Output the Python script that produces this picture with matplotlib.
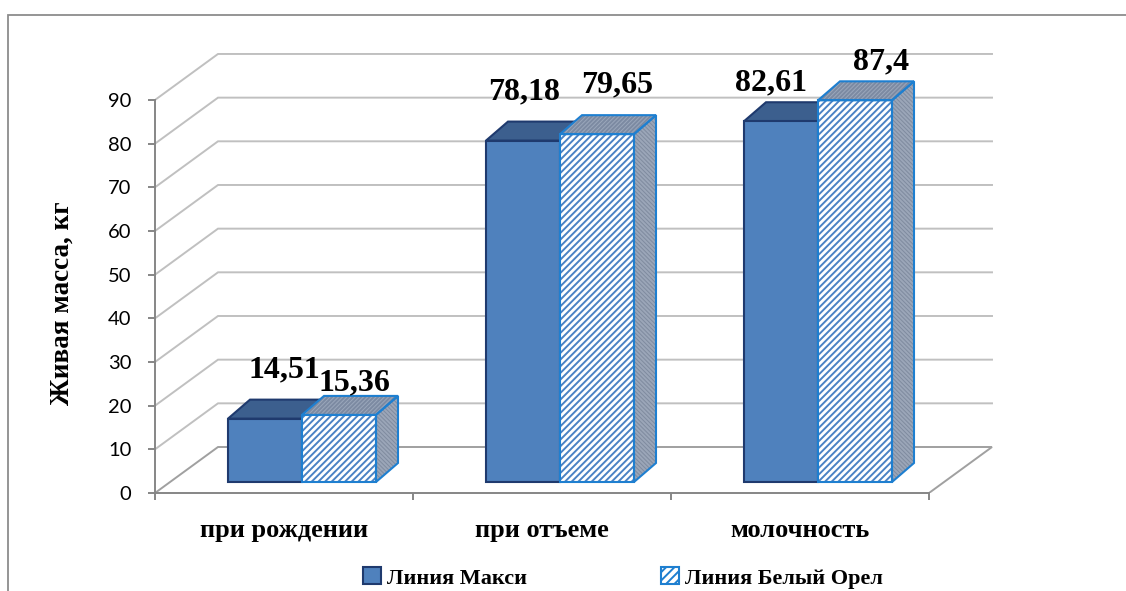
import matplotlib
matplotlib.use('Agg')
import matplotlib.pyplot as plt
from matplotlib.patches import Polygon, Rectangle, Patch
import numpy as np

# data
categories = ['при рождении', 'при отъеме', 'молочность']
maksi = [14.51, 78.18, 82.61]
orel = [15.36, 79.65, 87.4]
series_names = ['Линия Макси', 'Линия Белый Орел']
y_ticks = list(range(0, 100, 10))

# label nudges (px) relative to the top-back of each bar
maksi_nudge = [(8, -30), (-10, -30), (-21, -19)]
orel_nudge = [(4, -13), (9, -30), (15, -19)]

plt.rcParams['hatch.linewidth'] = 1.4
SERIF = 'Liberation Serif'

W_PX, H_PX = 1126, 591
fig = plt.figure(figsize=(W_PX / 100, H_PX / 100), dpi=100)
ax = fig.add_axes([155 / W_PX, 98 / H_PX, 838 / W_PX, 440 / H_PX])
PX_X, PX_Y = 258, 4.367  # pixels per category / per kg
ax.set_xlim(-0.5, -0.5 + 838 / PX_X)
ax.set_ylim(0, 440 / PX_Y)

# 3d geometry
DX, DY = 63 / PX_X, 46 / PX_Y      # depth of the floor and walls
BX, BY = 18 / PX_X, 11 / PX_Y      # front face of the bars sits a bit back
BW = 74 / PX_X                     # bar width
BDX, BDY = 22 / PX_X, 19 / PX_Y    # bar depth

x_end = len(categories) - 0.5

# gridlines on the back wall
for v in y_ticks:
    xs = [-0.5, -0.5 + DX, x_end + DX]
    ys = [v, v + DY, v + DY]
    col = '#C0C0C0'
    if v == 0:
        xs.append(x_end)
        ys.append(0)
        col = '#A0A0A0'
    ax.plot(xs, ys, color=col, lw=1.4, zorder=0.5, solid_joinstyle='miter')

x = np.arange(len(categories))
maksi_front = '#4F81BD'
maksi_edge = '#1F3A6E'
maksi_top = '#3C5F8E'
orel_edge = '#1E7FD0'
orel_hatch = '#4A82C4'

xm = x - BW + BX
xo = x + BX

# Макси
ax.bar(xm, maksi, BW, bottom=BY, align='edge', color=maksi_front,
       edgecolor=maksi_edge, lw=1.5, zorder=2)
for x0, h in zip(xm, maksi):
    top = [(x0, BY + h), (x0 + BW, BY + h), (x0 + BW + BDX, BY + h + BDY), (x0 + BDX, BY + h + BDY)]
    ax.add_patch(Polygon(top, closed=True, facecolor=maksi_top, edgecolor=maksi_edge,
                         lw=1.5, zorder=1.9, joinstyle='miter'))

# Белый Орел
ax.bar(xo, orel, BW, bottom=BY, align='edge', color='white', edgecolor=orel_hatch,
       hatch='/////', lw=0, zorder=3)
ax.bar(xo, orel, BW, bottom=BY, align='edge', fill=False, edgecolor=orel_edge,
       lw=1.5, zorder=3.1)
for x0, h in zip(xo, orel):
    x1 = x0 + BW
    top = [(x0, BY + h), (x1, BY + h), (x1 + BDX, BY + h + BDY), (x0 + BDX, BY + h + BDY)]
    side = [(x1, BY), (x1 + BDX, BY + BDY), (x1 + BDX, BY + h + BDY), (x1, BY + h)]
    ax.add_patch(Polygon(top, closed=True, facecolor='#9AA7BB', edgecolor='#7C8AA2',
                         hatch='////////', lw=0, zorder=2.8))
    ax.add_patch(Polygon(side, closed=True, facecolor='#7F8B9F', edgecolor='#9BA6B8',
                         hatch='\\\\\\\\\\\\\\\\', lw=0, zorder=2.8))
    for poly in (top, side):
        ax.add_patch(Polygon(poly, closed=True, fill=False, edgecolor=orel_edge,
                             lw=1.5, zorder=3.2, joinstyle='miter'))

# value labels
def fmt(v):
    return f'{v:g}'.replace('.', ',')

for xs_, vals, nudges in ((xm, maksi, maksi_nudge), (xo, orel, orel_nudge)):
    for x0, h, (nx, ny) in zip(xs_, vals, nudges):
        ax.annotate(fmt(h), (x0 + BW / 2 + BDX / 2, BY + h + BDY),
                    xytext=(nx * 0.72, -ny * 0.72), textcoords='offset points',
                    ha='center', va='center', fontsize=23, fontweight='bold',
                    family=SERIF, zorder=5, annotation_clip=False)

# axes
for s in ('top', 'right'):
    ax.spines[s].set_visible(False)
ax.spines['left'].set_bounds(0, 90)
ax.spines['bottom'].set_bounds(-0.5, x_end)
for s in ('left', 'bottom'):
    ax.spines[s].set_color('#868686')
    ax.spines[s].set_linewidth(1.4)
    ax.spines[s].set_zorder(4)

ax.set_yticks(y_ticks)
ax.tick_params(axis='y', length=5, width=1.4, color='#868686', pad=12,
               labelsize=14.5)
for t in ax.get_yticklabels():
    t.set_family('Lato')

ax.set_xticks(x)
ax.set_xticklabels(categories, fontsize=19, fontweight='bold', family=SERIF)
ax.tick_params(axis='x', which='major', length=0, pad=19)
ax.set_xticks(np.arange(-0.5, x_end + 0.1, 1), minor=True)
ax.tick_params(axis='x', which='minor', length=5, width=1.4, color='#868686')

fig.text(62 / W_PX, 1 - 303 / H_PX, 'Живая масса, кг', rotation=90, ha='center',
         va='center', fontsize=19.5, fontweight='bold', family=SERIF)

handles = [Patch(facecolor=maksi_front, edgecolor=maksi_edge, lw=1.5),
           Patch(facecolor='white', edgecolor=orel_edge, hatch='////', lw=1.5)]
fig.legend(handles, series_names, loc='center', bbox_to_anchor=(623 / W_PX, 1 - 578 / H_PX),
           ncol=2, frameon=False, handlelength=0.8, handleheight=0.8, handletextpad=0.3,
           columnspacing=6, prop={'family': SERIF, 'weight': 'bold', 'size': 16})

# outer border of the chart area
fig.add_artist(Rectangle((8 / W_PX, -0.1), 2, 1.1 - 15 / H_PX, transform=fig.transFigure,
                         fill=False, edgecolor='#8C8C8C', lw=1.3))

fig.savefig('out.png', dpi=100)
